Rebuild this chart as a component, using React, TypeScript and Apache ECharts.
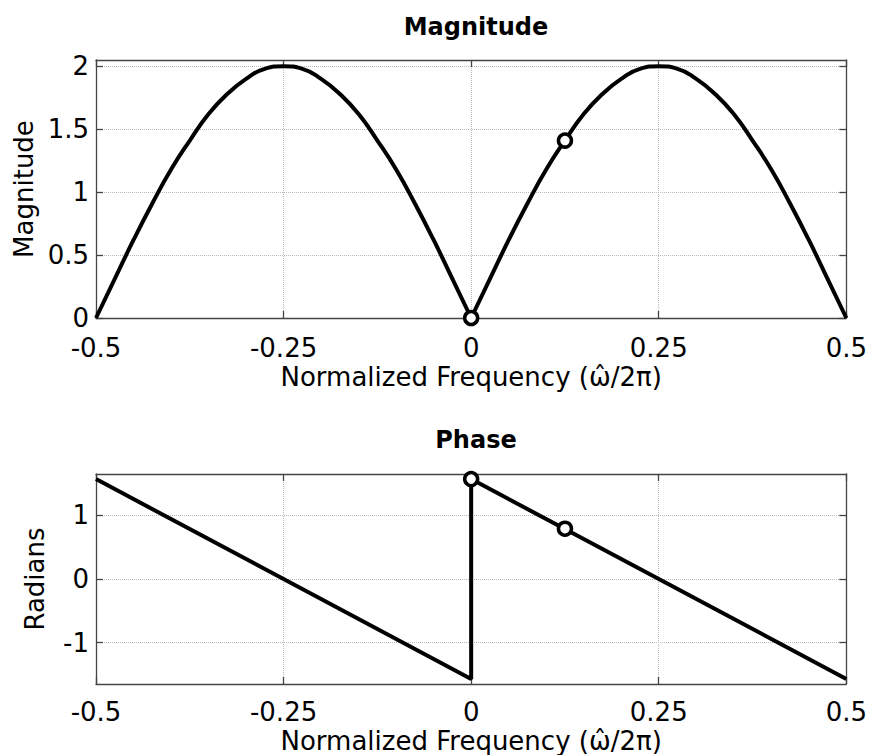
import React, { useEffect, useRef } from "react";
import * as echarts from "echarts";

// Normalized frequency samples (ω̂/2π)
const freq = [
  -0.5, -0.475, -0.45, -0.425, -0.4, -0.375, -0.35, -0.325, -0.3, -0.275, -0.25,
  -0.225, -0.2, -0.175, -0.15, -0.125, -0.1, -0.075, -0.05, -0.025, 0,
  0.025, 0.05, 0.075, 0.1, 0.125, 0.15, 0.175, 0.2, 0.225, 0.25,
  0.275, 0.3, 0.325, 0.35, 0.375, 0.4, 0.425, 0.45, 0.475, 0.5,
];
// Magnitude
const magnitude = [
  0, 0.31, 0.62, 0.91, 1.18, 1.41, 1.62, 1.78, 1.9, 1.98, 2.0,
  1.98, 1.9, 1.78, 1.62, 1.41, 1.18, 0.91, 0.62, 0.31, 0,
  0.31, 0.62, 0.91, 1.18, 1.41, 1.62, 1.78, 1.9, 1.98, 2.0,
  1.98, 1.9, 1.78, 1.62, 1.41, 1.18, 0.91, 0.62, 0.31, 0,
];
// Phase polyline vertices
const phaseFreq = [-0.5, 0, 0, 0.5];
const phaseValues = [1.57, -1.57, 1.57, -1.57];
// Marked points
const markerFreq = [0, 0.125];
const markerMag = [0, 1.41];
const markerPhase = [1.57, 0.79];
// Ticks
const xTicks = [-0.5, -0.25, 0, 0.25, 0.5];
const xTickLabels = ["-0.5", "-0.25", "0", "0.25", "0.5"];
const magTicks = [0, 0.5, 1, 1.5, 2];
const magTickLabels = ["0", "0.5", "1", "1.5", "2"];
const phaseTicks = [-1, 0, 1];
const phaseTickLabels = ["-1", "0", "1"];

const FONT = "DejaVu Sans";
const AX = "#444";

function labelFor(values: number[], labels: string[]) {
  return (v: number) => {
    const i = values.findIndex((t) => Math.abs(t - v) < 1e-9);
    return i >= 0 ? labels[i] : "";
  };
}

export default function App() {
  const ref = useRef<HTMLDivElement>(null);
  useEffect(() => {
    if (!ref.current) return;
    const chart = echarts.init(ref.current, undefined, { renderer: "svg" });

    const leftIdx = freq.findIndex((f) => f === 0);
    const magLeft = freq.slice(0, leftIdx + 1).map((f, i) => [f, magnitude[i]]);
    const magRight = freq.slice(leftIdx).map((f, i) => [f, magnitude[leftIdx + i]]);
    const phaseData = phaseFreq.map((f, i) => [f, phaseValues[i]]);
    const magMarks = markerFreq.map((f, i) => [f, markerMag[i]]);
    const phaseMarks = markerFreq.map((f, i) => [f, markerPhase[i]]);

    const tickStyle = (vals: number[]) => ({
      show: true,
      inside: true,
      length: 7,
      customValues: vals,
      lineStyle: { color: AX, width: 1.3 },
    });
    const split = { show: true, lineStyle: { color: "#bbb", type: "dotted", width: 1 } };
    const axLine = { show: true, onZero: false, lineStyle: { color: AX, width: 1.3 } };

    const xMain = (gridIndex: number, margin: number, gap: number) => ({
      type: "value",
      gridIndex,
      position: "bottom",
      min: -0.5,
      max: 0.5,
      axisLine: axLine,
      axisTick: tickStyle(xTicks),
      axisLabel: {
        customValues: xTicks,
        formatter: labelFor(xTicks, xTickLabels),
        fontFamily: FONT,
        fontSize: 26,
        lineHeight: 20,
        color: "#000",
        margin,
      },
      splitLine: split,
      name: "Normalized Frequency (\u03C9\u0302/2\u03C0)",
      nameLocation: "middle",
      nameGap: gap,
      nameTextStyle: { fontFamily: FONT, fontSize: 26, lineHeight: 20, color: "#000" },
    });
    const xTop = (gridIndex: number) => ({
      type: "value",
      gridIndex,
      position: "top",
      min: -0.5,
      max: 0.5,
      axisLine: axLine,
      axisTick: tickStyle(xTicks),
      axisLabel: { show: false },
      splitLine: { show: false },
    });
    const yMain = (gridIndex: number, min: number, max: number, ticks: number[], labels: string[], name: string, gap: number) => ({
      type: "value",
      gridIndex,
      position: "left",
      min,
      max,
      axisLine: axLine,
      axisTick: tickStyle(ticks),
      axisLabel: {
        customValues: ticks,
        formatter: labelFor(ticks, labels),
        fontFamily: FONT,
        fontSize: 26,
        lineHeight: 20,
        color: "#000",
        margin: 7,
      },
      splitLine: split,
      name,
      nameLocation: "middle",
      nameGap: gap,
      nameTextStyle: { fontFamily: FONT, fontSize: 26, color: "#000" },
    });
    const yRight = (gridIndex: number, min: number, max: number, ticks: number[]) => ({
      type: "value",
      gridIndex,
      position: "right",
      min,
      max,
      axisLine: axLine,
      axisTick: tickStyle(ticks),
      axisLabel: { show: false },
      splitLine: { show: false },
    });

    const lineSeries = (data: number[][], xi: number, yi: number) => ({
      type: "line",
      data,
      xAxisIndex: xi,
      yAxisIndex: yi,
      smooth: false,
      showSymbol: false,
      symbol: "none",
      lineStyle: { color: "#000", width: 4 },
      z: 3,
    });
    const markSeries = (data: number[][], xi: number, yi: number) => ({
      type: "scatter",
      data,
      xAxisIndex: xi,
      yAxisIndex: yi,
      symbol: "circle",
      symbolSize: 13,
      itemStyle: { color: "#fff", borderColor: "#000", borderWidth: 3.5, opacity: 1 },
      z: 4,
    });

    chart.setOption({
      animation: false,
      backgroundColor: "#fff",
      title: [
        {
          text: "Magnitude",
          left: 471,
          top: 10,
          textAlign: "center",
          textStyle: { fontFamily: FONT, fontSize: 24, fontWeight: "bold", color: "#000" },
        },
        {
          text: "Phase",
          left: 471,
          top: 423,
          textAlign: "center",
          textStyle: { fontFamily: FONT, fontSize: 24, fontWeight: "bold", color: "#000" },
        },
      ],
      grid: [
        { left: 96, top: 60, width: 751, height: 258 },
        { left: 96, top: 474, width: 751, height: 211 },
      ],
      xAxis: [xMain(0, 20, 49), xTop(0), xMain(1, 18, 47), xTop(1)],
      yAxis: [
        yMain(0, 0, 2.05, magTicks, magTickLabels, "Magnitude", 59),
        yRight(0, 0, 2.05, magTicks),
        yMain(1, -1.65, 1.65, phaseTicks, phaseTickLabels, "Radians", 48),
        yRight(1, -1.65, 1.65, phaseTicks),
      ],
      series: [
        { ...lineSeries(magLeft, 0, 0), smooth: 0.5 },
        { ...lineSeries(magRight, 0, 0), smooth: 0.5 },
        markSeries(magMarks, 0, 0),
        lineSeries(phaseData, 2, 2),
        markSeries(phaseMarks, 2, 2),
      ],
    });
    return () => chart.dispose();
  }, []);
  return (
    <div
      ref={ref}
      style={{ position: "fixed", left: 0, top: 0, width: 870, height: 755 }}
    />
  );
}
